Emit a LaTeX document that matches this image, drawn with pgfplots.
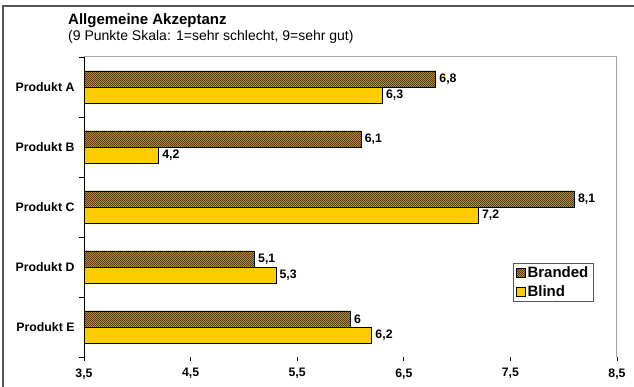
\documentclass[border=0pt]{standalone}
\usepackage{pgfplots}
\pgfplotsset{compat=1.18}
\usepackage{fontspec}
\setmainfont{Liberation Sans}
\usetikzlibrary{patterns.meta}

% fine diagonal hatching for the branded bars
\tikzdeclarepattern{
  name=finehatch,
  type=uncolored,
  bounding box={(-1bp,-1bp) and (3bp,3bp)},
  tile size={(2bp,2bp)},
  code={\pgfsetlinewidth{0.45bp}
        \pgfpathmoveto{\pgfqpoint{-0.2bp}{-0.2bp}}
        \pgfpathlineto{\pgfqpoint{2.2bp}{2.2bp}}
        \pgfusepath{stroke}}
}

\definecolor{goldbase}{RGB}{230,170,0}
\definecolor{hatchdark}{RGB}{60,40,0}
\definecolor{blindyellow}{RGB}{255,204,0}
\definecolor{framegray}{RGB}{85,85,85}
\definecolor{plotgray}{RGB}{165,165,165}

\begin{document}
\begin{tikzpicture}
\useasboundingbox (0,0) rectangle (634bp,387bp);

% outer chart frame
\draw[framegray, line width=1.5bp] (3bp,0bp) -- (3bp,381bp) -- (640bp,381bp);

% titles
\node[anchor=base west, inner sep=0pt, font=\bfseries\fontsize{15bp}{18bp}\selectfont]
  at (68bp,362bp) {Allgemeine Akzeptanz};
\node[anchor=base west, inner sep=0pt, font=\fontsize{14bp}{16bp}\selectfont]
  at (68bp,346bp) {(9 Punkte Skala: 1=sehr schlecht, 9=sehr gut)};

\begin{axis}[
  at={(84bp,30bp)}, anchor=south west,
  scale only axis, width=533bp, height=300bp,
  xbar, bar width=16bp,
  xmin=3.5, xmax=8.5, ymin=-0.5, ymax=4.5,
  axis line style={draw=none},
  xtick={3.5,4.5,5.5,6.5,7.5,8.5},
  xticklabels={{3,5},{4,5},{5,5},{6,5},{7,5},{8,5}},
  ytick={0,1,2,3,4},
  yticklabels={Produkt E,Produkt D,Produkt C,Produkt B,Produkt A},
  minor ytick={-0.5,0.5,1.5,2.5,3.5,4.5},
  tick pos=left, tick align=outside,
  major tick length=4bp, minor tick length=5bp,
  major y tick style={draw=none},
  minor y tick style={black, line width=0.8bp},
  major x tick style={black, line width=0.8bp},
  ticklabel style={font=\bfseries\fontsize{12.3bp}{14bp}\selectfont},
  yticklabel style={xshift=-2bp},
  xticklabel style={yshift=-4bp},
  /pgf/number format/assume math mode=true,
  nodes near coords,
  nodes near coords style={font=\bfseries\fontsize{12.3bp}{14bp}\selectfont,
    /pgf/number format/.cd, use comma, fixed, precision=1},
  legend style={at={(rel axis cs:0.805,0.313)}, anchor=north west,
    draw=framegray, line width=0.8bp,
    font=\bfseries\fontsize{15bp}{17bp}\selectfont,
    inner xsep=3bp, inner ysep=2bp, row sep=3bp,
    nodes={inner xsep=2bp, inner ysep=1.5bp}},
  legend cell align=left,
  legend image code/.code={\draw[#1, line width=0.6bp] (0bp,-4.5bp) rectangle (8.5bp,4.5bp);},
]
% Branded
\addplot[draw=black, line width=0.7bp, fill=goldbase,
  postaction={pattern=finehatch, pattern color=hatchdark}, bar shift=8bp]
  coordinates {(6.8,4) (6.1,3) (8.1,2) (5.1,1) (6.0,0)};
\addlegendentry{Branded}
% Blind
\addplot[draw=black, line width=0.7bp, fill=blindyellow, bar shift=-8bp]
  coordinates {(6.3,4) (4.2,3) (7.2,2) (5.3,1) (6.2,0)};
\addlegendentry{Blind}

% plot area border: grey top/right, black axes left/bottom
\draw[plotgray, line width=1bp] (rel axis cs:0,1) -- (rel axis cs:1,1);
\draw[plotgray, line width=2bp] (rel axis cs:1,1) -- (rel axis cs:1,0);
\draw[black, line width=1bp] (rel axis cs:0,1) -- (rel axis cs:0,0) -- (rel axis cs:1,0);
\end{axis}
\end{tikzpicture}
\end{document}
